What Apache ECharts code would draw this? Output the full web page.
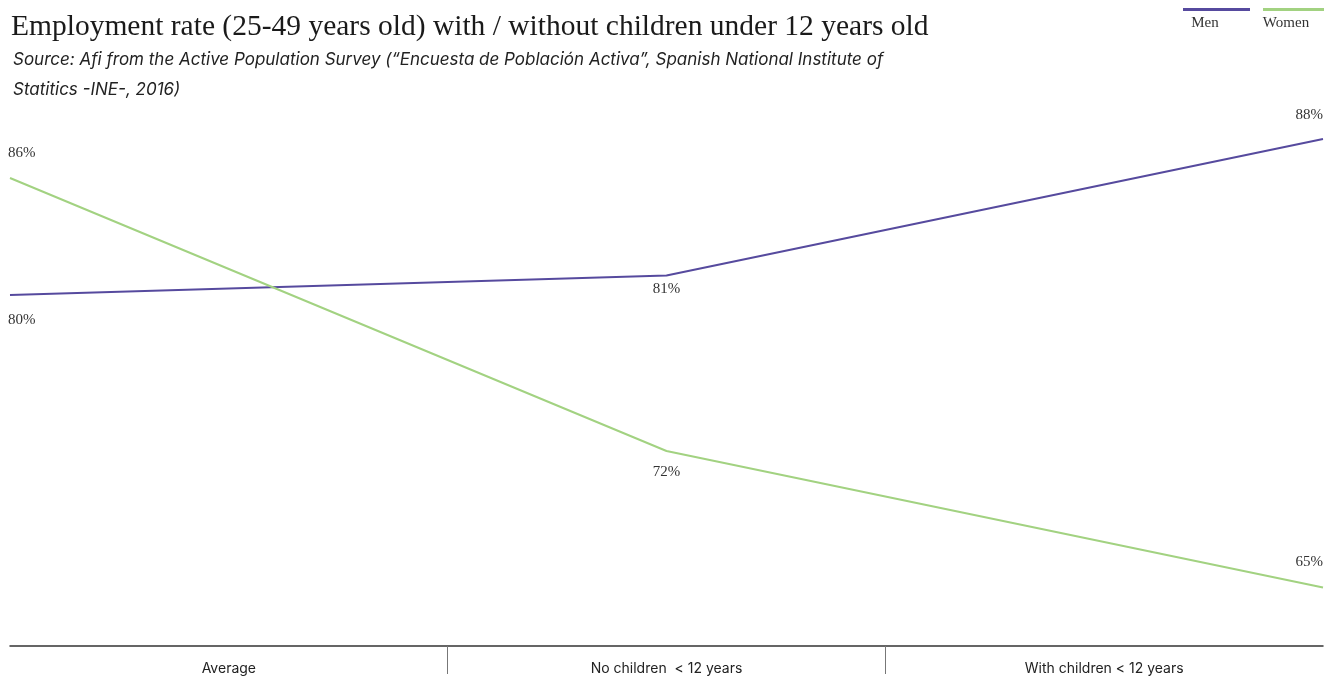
<!DOCTYPE html>
<html>
<head>
<meta charset="utf-8">
<title>Employment rate with / without children</title>
<script src="https://cdn.jsdelivr.net/npm/echarts@6/dist/echarts.min.js"></script>
<style>
  html, body { margin: 0; padding: 0; background: #fff; }
  #chart { width: 1333px; height: 679px; }
</style>
</head>
<body>
<div id="chart"></div>
<script>
// Employment rate (%) for people aged 25-49 by household situation
const categories = ['Average', 'No children  < 12 years', 'With children < 12 years'];
const men = [80, 81, 88];
const women = [86, 72, 65];
const seriesNames = ['Men', 'Women'];

const MEN_COLOR = '#564a9e';
const WOMEN_COLOR = '#a2d281';
const SERIF = '"Liberation Serif", "DejaVu Serif", serif';
const SANS = 'Inter, "Noto Sans", sans-serif';

// label placement for each point of a series: [position, distance]
const menLabelSide = [['bottom', 18], ['bottom', 6], ['top', 16]];
const womenLabelSide = [['top', 17], ['bottom', 14], ['top', 18]];

function buildData(values, sides) {
  return values.map((v, i) => {
    const last = values.length - 1;
    return {
      value: v,
      label: {
        position: sides[i][0],
        distance: sides[i][1],
        align: i === 0 ? 'left' : (i === last ? 'right' : 'center'),
        offset: i === 0 ? [-2, 0] : [0, 0]
      }
    };
  });
}

const chart = echarts.init(document.getElementById('chart'), null, { renderer: 'canvas' });

const labelStyle = {
  show: true,
  formatter: p => p.value + '%',
  fontFamily: SERIF,
  fontSize: 15,
  color: '#333'
};

chart.setOption({
  animation: false,
  backgroundColor: '#fff',
  title: [
    {
      text: 'Employment rate (25-49 years old) with / without children under 12 years old',
      left: 6,
      top: 7,
      textStyle: { fontFamily: SERIF, fontSize: 29.5, fontWeight: 'normal', color: '#1a1a1a' }
    },
    {
      text: 'Source: Afi from the Active Population Survey (\u201cEncuesta de Población Activa\u201d, Spanish National Institute of\nStatitics -INE-, 2016)',
      left: 8,
      top: 40,
      textStyle: { fontFamily: SANS, fontSize: 17, fontStyle: 'italic', fontWeight: 'normal', color: '#222', lineHeight: 30 }
    }
  ],
  graphic: [
    { type: 'rect', shape: { x: 1183, y: 8, width: 67, height: 3 }, style: { fill: MEN_COLOR } },
    { type: 'text', x: 1205, y: 23, style: { text: seriesNames[0], fill: '#333', font: '15px ' + SERIF, align: 'center', verticalAlign: 'middle' } },
    { type: 'rect', shape: { x: 1263, y: 8, width: 61, height: 3 }, style: { fill: WOMEN_COLOR } },
    { type: 'text', x: 1286, y: 23, style: { text: seriesNames[1], fill: '#333', font: '15px ' + SERIF, align: 'center', verticalAlign: 'middle' } }
  ],
  grid: { left: 10, right: 10, top: 100, bottom: 33, containLabel: false },
  xAxis: [
    {
      type: 'value',
      min: 0,
      max: categories.length,
      position: 'bottom',
      axisLine: { show: true, onZero: false, lineStyle: { color: '#333', width: 1.5 } },
      axisTick: { show: true, customValues: [1, 2], length: 28, lineStyle: { color: '#777', width: 1 } },
      axisLabel: {
        customValues: categories.map((c, i) => i + 0.5),
        formatter: v => categories[Math.floor(v)],
        margin: 16,
        fontFamily: SANS,
        fontSize: 14,
        color: '#222'
      },
      splitLine: { show: false }
    },
    {
      type: 'category',
      data: categories,
      boundaryGap: false,
      show: false
    }
  ],
  yAxis: {
    type: 'value',
    min: 62,
    max: 90,
    show: false,
    splitLine: { show: false }
  },
  series: [
    {
      name: seriesNames[0],
      type: 'line',
      xAxisIndex: 1,
      data: buildData(men, menLabelSide),
      symbol: 'circle',
      symbolSize: 0,
      lineStyle: { color: MEN_COLOR, width: 2 },
      itemStyle: { color: MEN_COLOR },
      label: labelStyle
    },
    {
      name: seriesNames[1],
      type: 'line',
      xAxisIndex: 1,
      data: buildData(women, womenLabelSide),
      symbol: 'circle',
      symbolSize: 0,
      lineStyle: { color: WOMEN_COLOR, width: 2 },
      itemStyle: { color: WOMEN_COLOR },
      label: labelStyle
    }
  ]
});
</script>
</body>
</html>
